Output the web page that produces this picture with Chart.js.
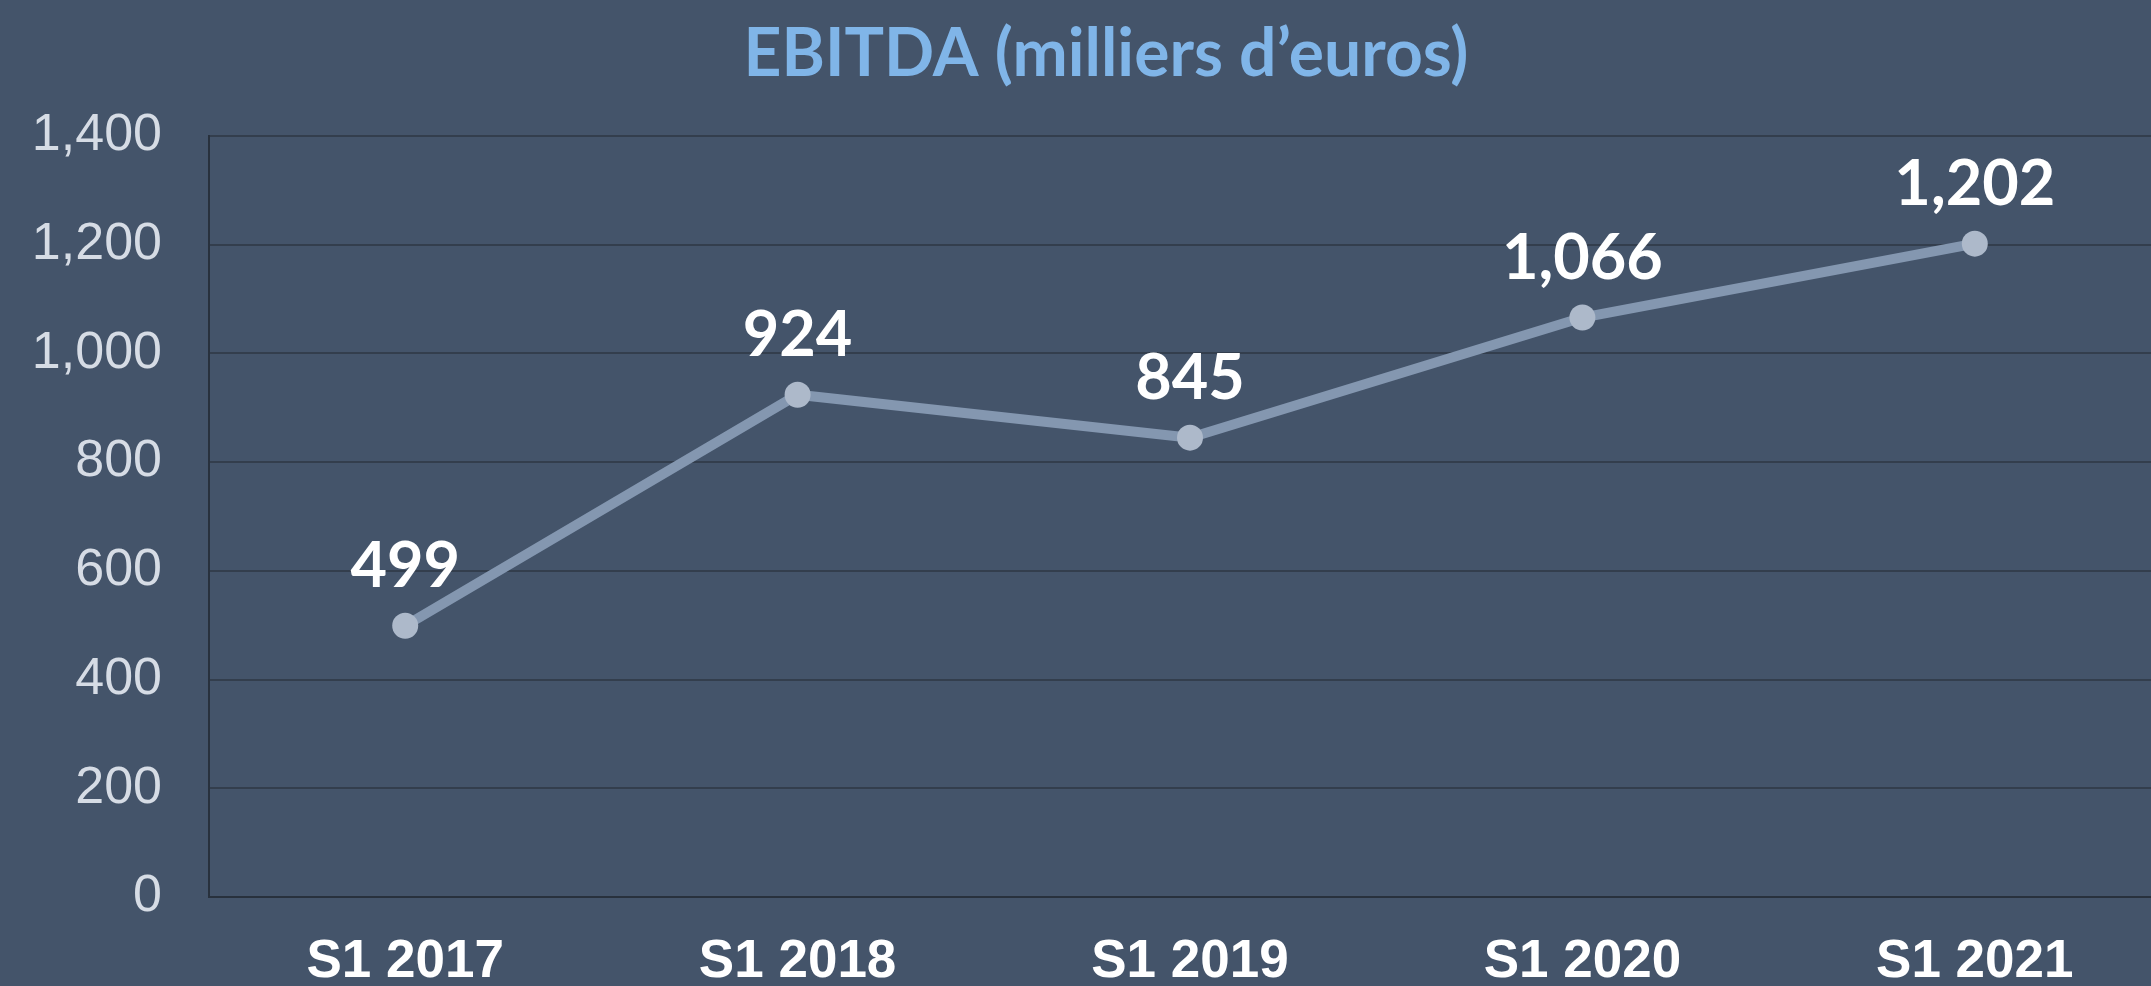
<!DOCTYPE html>
<html>
<head>
<meta charset="utf-8">
<script src="https://cdn.jsdelivr.net/npm/chart.js@4/dist/chart.umd.min.js"></script>
<style>
  html, body { margin: 0; padding: 0; background: #44546a; overflow: hidden; }
  canvas { display: block; }
</style>
</head>
<body>
<canvas id="chart" width="2184" height="986"></canvas>
<script>
const title = "EBITDA (milliers d’euros)";
const categories = ["S1 2017", "S1 2018", "S1 2019", "S1 2020", "S1 2021"];
const ebitda = [499, 924, 845, 1066, 1202];
const yTicks = [0, 200, 400, 600, 800, 1000, 1200, 1400];

const fmt = v => v.toLocaleString("en-US");

// background + title
const frame = {
    id: "frame",
    beforeDraw(chart) {
        const c = chart.ctx;
        c.save();
        c.fillStyle = "#44546a";
        c.fillRect(0, 0, chart.width, chart.height);
        c.restore();
    },
    afterDraw(chart) {
        const c = chart.ctx;
        c.save();
        c.font = "bold 66px Lato";
        c.fillStyle = "#80b5e8";
        c.textAlign = "center";
        c.textBaseline = "alphabetic";
        c.fillText(title, 1106, 76);
        c.restore();
    }
};

// value labels above points
const valueLabels = {
    id: "valueLabels",
    afterDatasetsDraw(chart) {
        const c = chart.ctx;
        const meta = chart.getDatasetMeta(0);
        c.save();
        c.font = "bold 63px Lato";
        c.fillStyle = "#ffffff";
        c.textAlign = "center";
        c.textBaseline = "alphabetic";
        meta.data.forEach((pt, i) => {
            c.fillText(fmt(ebitda[i]), pt.x, pt.y - 39);
        });
        c.restore();
    }
};

new Chart(document.getElementById("chart"), {
    type: "line",
    data: {
        labels: categories,
        datasets: [{
            label: "EBITDA",
            data: ebitda,
            borderColor: "#8497b0",
            borderWidth: 10,
            pointRadius: 13,
            pointHoverRadius: 13,
            pointBackgroundColor: "#adb9ca",
            pointBorderColor: "#adb9ca",
            pointBorderWidth: 0,
            tension: 0
        }]
    },
    options: {
        responsive: false,
        animation: false,
        layout: { padding: { top: 136, right: 0, bottom: 0, left: 0 } },
        plugins: {
            legend: { display: false },
            tooltip: { enabled: false },
            title: { display: false }
        },
        scales: {
            x: {
                offset: true,
                grid: { display: false, drawTicks: false },
                border: { color: "#28313d", width: 2 },
                ticks: {
                    color: "#ffffff",
                    padding: 34,
                    font: { family: "Arial, 'Liberation Sans'", size: 53, weight: "bold" }
                },
                afterFit(scale) { scale.height = 89; }
            },
            y: {
                min: 0,
                max: 1400,
                afterBuildTicks(scale) { scale.ticks = yTicks.map(v => ({ value: v })); },
                grid: { color: "#333e4d", lineWidth: 2, drawTicks: false },
                border: { color: "#28313d", width: 2 },
                ticks: {
                    color: "#d6dce5",
                    padding: 47,
                    callback: v => fmt(v),
                    font: { family: "Arial, 'Liberation Sans'", size: 52 }
                },
                afterFit(scale) { scale.width = 209; }
            }
        }
    },
    plugins: [frame, valueLabels]
});
</script>
</body>
</html>
